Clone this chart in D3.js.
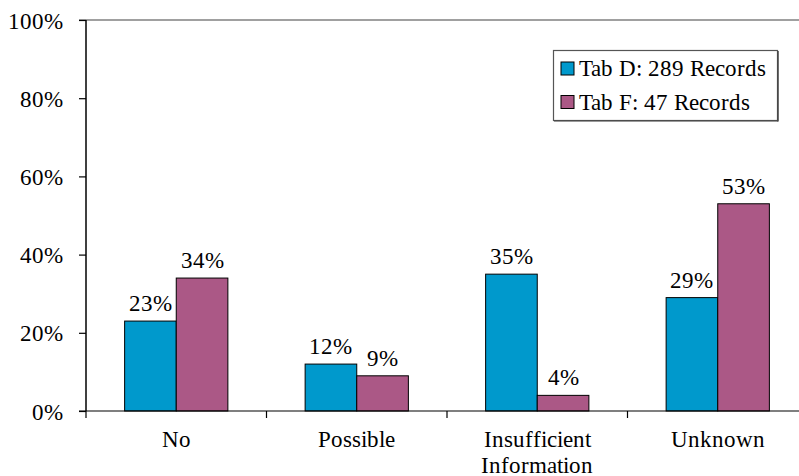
<!DOCTYPE html>
<html>
<head>
<meta charset="utf-8">
<script src="https://cdn.jsdelivr.net/npm/d3@7"></script>
<style>
  @font-face {
    font-family: "ChartSerif";
    src: local("Liberation Serif"), local("LiberationSerif"), local("LiberationSerif-Regular"), local("Times New Roman");
  }
  html, body { margin: 0; padding: 0; background: #fff; }
  svg { display: block; }
  svg text { font-family: "ChartSerif", "Liberation Serif", serif !important; }
</style>
</head>
<body>
<svg id="chart" width="799" height="476" font-family="Liberation Serif"></svg>
<script>
// Chart data
const categories = [["No"], ["Possible"], ["Insufficient", "Information"], ["Unknown"]];
const seriesNames = ["Tab D: 289 Records", "Tab F: 47 Records"];
const tabD = [23, 12, 35, 29];
const tabF = [34, 9, 4, 53];
const yTicks = [0, 20, 40, 60, 80, 100];
const colors = ["#0099cc", "#ab5886"];

const svg = d3.select("#chart");
const plotLeft = 86, plotRight = 808, plotTop = 20, plotBottom = 411;
const fontSize = 22.5;

const x = d3.scaleBand().domain(d3.range(categories.length)).range([plotLeft, plotRight]).paddingInner(0).paddingOuter(0);
const bandW = x.bandwidth();
const sideGap = bandW * 0.214;
const xSub = d3.scaleBand().domain([0, 1]).range([sideGap, bandW - sideGap]).padding(0);
const y = d3.scaleLinear().domain([0, 100]).range([plotBottom, plotTop]);

// top frame line at 100%
svg.append("line")
  .attr("x1", plotLeft - 7).attr("x2", 799)
  .attr("y1", y(100)).attr("y2", y(100))
  .attr("stroke", "#808080").attr("stroke-width", 1.5);

// bars and value labels
const series = [tabD, tabF];
series.forEach((vals, si) => {
  svg.append("g").selectAll("rect").data(vals).join("rect")
    .attr("x", (d, i) => x(i) + xSub(si))
    .attr("width", xSub.bandwidth())
    .attr("y", d => y(d))
    .attr("height", d => y(0) - y(d))
    .attr("fill", colors[si])
    .attr("stroke", "#000").attr("stroke-width", 1);
  svg.append("g").selectAll("text").data(vals).join("text")
    .attr("x", (d, i) => x(i) + xSub(si) + xSub.bandwidth() / 2)
    .attr("y", d => y(d) - 10)
    .attr("text-anchor", "middle")
    .attr("font-size", fontSize)
    .attr("fill", "#000")
    .text(d => d + "%");
});

// y axis
const yAxis = d3.axisLeft(y).tickValues(yTicks).tickSize(7).tickFormat(d => d + "%");
const gy = svg.append("g").attr("transform", `translate(${plotLeft},0)`).call(yAxis);
gy.attr("font-family", null).attr("font-size", null);
gy.select(".domain").attr("stroke", "#000").attr("stroke-width", 1.5).attr("d", `M0,${plotTop}V${plotBottom}`);
gy.selectAll(".tick line").attr("stroke", "#000").attr("stroke-width", 1.2);
gy.selectAll(".tick text")
  .attr("font-size", fontSize)
  .attr("fill", "#000").attr("x", -23).attr("dy", "0.36em");

// x axis
const xTickScale = d3.scaleLinear().domain([0, categories.length]).range([plotLeft, plotRight]);
const gx = svg.append("g").attr("transform", `translate(0,${plotBottom})`);
gx.append("line").attr("x1", plotLeft - 7).attr("x2", 799).attr("y1", 0).attr("y2", 0)
  .attr("stroke", "#000").attr("stroke-width", 1.2);
gx.selectAll("line.tk").data(d3.range(categories.length)).join("line")
  .attr("class", "tk")
  .attr("x1", d => xTickScale(d)).attr("x2", d => xTickScale(d))
  .attr("y1", 0).attr("y2", 7)
  .attr("stroke", "#000").attr("stroke-width", 1.2);
categories.forEach((lines, i) => {
  const t = gx.append("text")
    .attr("x", x(i) + bandW / 2)
    .attr("y", 35.5)
    .attr("text-anchor", "middle")
    .attr("font-size", fontSize)
    .attr("fill", "#000");
  lines.forEach((ln, j) => {
    t.append("tspan").attr("x", x(i) + bandW / 2).attr("dy", j === 0 ? 0 : 26).text(ln);
  });
});

// legend
const lg = svg.append("g");
lg.append("rect").attr("x", 553.5).attr("y", 50.5).attr("width", 224).attr("height", 70)
  .attr("fill", "#fff").attr("stroke", "#555").attr("stroke-width", 1.2);
lg.append("line").attr("x1", 778).attr("x2", 778).attr("y1", 51).attr("y2", 121.5)
  .attr("stroke", "#444").attr("stroke-width", 1.5);
lg.append("line").attr("x1", 554).attr("x2", 778).attr("y1", 121).attr("y2", 121)
  .attr("stroke", "#444").attr("stroke-width", 1);
seriesNames.forEach((name, i) => {
  const cy = 68.5 + i * 33.5;
  lg.append("rect").attr("x", 561).attr("y", cy - 6.5).attr("width", 13).attr("height", 13)
    .attr("fill", colors[i]).attr("stroke", "#000").attr("stroke-width", 1);
  lg.append("text").attr("x", 579).attr("y", cy + 7.5)
    .attr("font-size", fontSize)
    .attr("fill", "#000").text(name);
});
</script>
</body>
</html>
